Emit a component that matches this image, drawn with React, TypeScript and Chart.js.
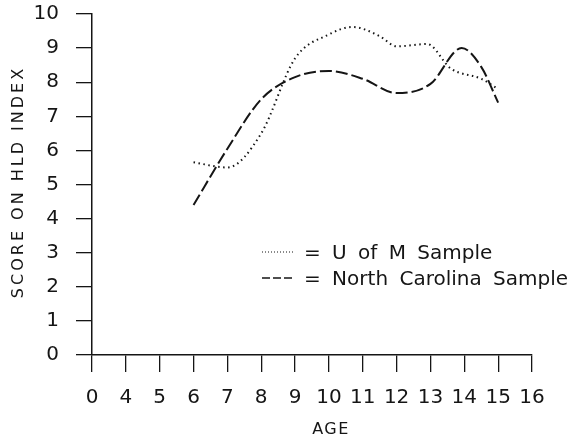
import React, { useEffect, useRef } from 'react';
import { Chart, registerables } from 'chart.js';

Chart.register(...registerables);

// Broken x axis: first tick is age 0, then 4..16 equally spaced
const xTickLabels = ['0', '4', '5', '6', '7', '8', '9', '10', '11', '12', '13', '14', '15', '16'];
const yTickLabels = ['0', '1', '2', '3', '4', '5', '6', '7', '8', '9', '10'];

const umAges = [6, 7, 8, 9, 10, 10.7, 11.5, 12, 12.9, 13.6, 14.5, 15];
const umScores = [5.65, 5.5, 6.5, 8.7, 9.4, 9.62, 9.35, 9.05, 9.12, 8.4, 8.1, 7.8];

const ncAges = [6, 7, 8, 9, 10, 11, 12, 13, 13.92, 14.5, 15];
const ncScores = [4.4, 6.05, 7.5, 8.15, 8.33, 8.1, 7.68, 7.95, 9.0, 8.45, 7.4];

const legendLabels = ['= U of M Sample', '= North Carolina Sample'];
const xTitle = 'AGE';
const yTitle = 'SCORE ON HLD INDEX';

const agePos = (a: number) => (a === 0 ? 0 : a - 3);

const FONT = '"DejaVu Sans", sans-serif';
const INK = '#151515';

const annotations = {
  id: 'annotations',
  afterDraw(chart: any) {
    const ctx = chart.ctx as CanvasRenderingContext2D;
    ctx.save();
    ctx.fillStyle = INK;
    ctx.strokeStyle = INK;
    // axis titles
    ctx.font = `16px ${FONT}`;
    ctx.textAlign = 'center';
    ctx.textBaseline = 'middle';
    (ctx as any).letterSpacing = '1.5px';
    ctx.fillText(xTitle, 331, 430);
    ctx.save();
    ctx.translate(19, 182);
    ctx.rotate(-Math.PI / 2);
    (ctx as any).letterSpacing = '3px';
    ctx.fillText(yTitle, 0, 0);
    ctx.restore();
    (ctx as any).letterSpacing = '0px';

    // legend
    const lx0 = 262;
    const lx1 = 294;
    const rows = [252, 278];
    ctx.lineWidth = 1.2;
    ctx.setLineDash([1, 2]);
    ctx.beginPath();
    ctx.moveTo(lx0, rows[0]);
    ctx.lineTo(lx1, rows[0]);
    ctx.stroke();
    ctx.lineWidth = 1.6;
    ctx.setLineDash([8, 3]);
    ctx.beginPath();
    ctx.moveTo(lx0, rows[1]);
    ctx.lineTo(lx1, rows[1]);
    ctx.stroke();
    ctx.setLineDash([]);
    ctx.font = `20px ${FONT}`;
    (ctx as any).wordSpacing = '5px';
    ctx.textAlign = 'left';
    ctx.textBaseline = 'middle';
    ctx.fillText(legendLabels[0], 304, rows[0] + 2);
    ctx.fillText(legendLabels[1], 304, rows[1] + 2);
    ctx.restore();
  },
};

export default function App() {
  const ref = useRef<HTMLCanvasElement>(null);
  useEffect(() => {
    if (!ref.current) return;
    const chart = new Chart(ref.current, {
      type: 'line',
      data: {
        datasets: [
          {
            label: 'U of M Sample',
            data: umAges.map((a, i) => ({ x: agePos(a), y: umScores[i] })),
            borderColor: INK,
            borderWidth: 2,
            borderDash: [1.5, 3.5],
            pointRadius: 0,
            cubicInterpolationMode: 'monotone',
            fill: false,
          },
          {
            label: 'North Carolina Sample',
            data: ncAges.map((a, i) => ({ x: agePos(a), y: ncScores[i] })),
            borderColor: INK,
            borderWidth: 2,
            borderDash: [12, 4],
            pointRadius: 0,
            cubicInterpolationMode: 'monotone',
            fill: false,
          },
        ],
      },
      options: {
        responsive: false,
        animation: false,
        layout: { padding: { top: 14, right: 39, left: 0, bottom: 0 } },
        plugins: { legend: { display: false }, tooltip: { enabled: false } },
        scales: {
          x: {
            type: 'linear',
            min: 0,
            max: xTickLabels.length - 1,
            afterFit: (s: any) => {
              s.height = 82;
              s.paddingLeft = 0;
              s.paddingRight = 0;
            },
            ticks: {
              stepSize: 1,
              autoSkip: false,
              maxRotation: 0,
              padding: 14,
              color: INK,
              font: { family: FONT, size: 20 },
              callback: (v: any) => xTickLabels[Number(v)] ?? '',
            },
            grid: {
              drawOnChartArea: false,
              drawTicks: true,
              tickLength: 17,
              color: INK,
              lineWidth: 1.3,
            },
            border: { display: true, color: INK, width: 1.5 },
          },
          y: {
            type: 'linear',
            min: 0,
            max: 10,
            afterFit: (s: any) => {
              s.width = 92;
              s.paddingTop = 0;
              s.paddingBottom = 0;
            },
            ticks: {
              stepSize: 1,
              padding: 17,
              color: INK,
              font: { family: FONT, size: 20 },
              callback: (v: any) => yTickLabels[Number(v)] ?? '',
            },
            grid: {
              drawOnChartArea: false,
              drawTicks: true,
              tickLength: 16,
              color: INK,
              lineWidth: 1.3,
            },
            border: { display: true, color: INK, width: 1.5 },
          },
        },
      },
      plugins: [annotations],
    });
    return () => chart.destroy();
  }, []);
  return (
    <div style={{ position: 'fixed', left: 0, top: 0, width: 571, height: 437, background: '#fff' }}>
      <canvas ref={ref} width={571} height={437} style={{ width: 571, height: 437 }} />
    </div>
  );
}
